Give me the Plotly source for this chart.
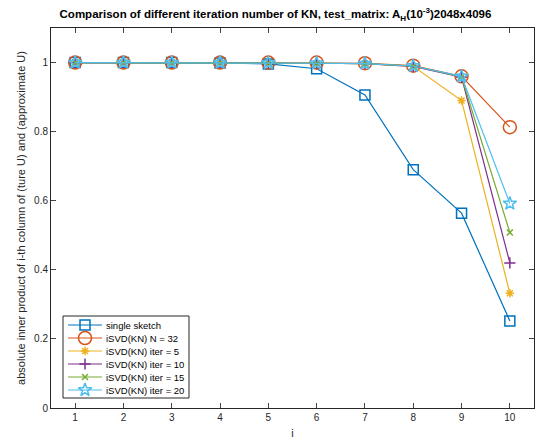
import plotly.graph_objects as go

i_vals = [1, 2, 3, 4, 5, 6, 7, 8, 9, 10]

single_sketch = [1.0, 1.0, 1.0, 0.999, 0.996, 0.982, 0.906, 0.690, 0.564, 0.252]
isvd_n32 = [1.0, 1.0, 1.0, 1.0, 1.0, 1.0, 0.998, 0.991, 0.960, 0.813]
iter5 = [1.0, 1.0, 1.0, 1.0, 0.999, 0.998, 0.997, 0.989, 0.890, 0.332]
iter10 = [1.0, 1.0, 1.0, 1.0, 0.999, 0.998, 0.997, 0.989, 0.958, 0.420]
iter15 = [1.0, 1.0, 1.0, 1.0, 0.999, 0.998, 0.997, 0.990, 0.959, 0.508]
iter20 = [1.0, 1.0, 1.0, 1.0, 0.999, 0.998, 0.997, 0.990, 0.960, 0.592]

names = ["single sketch", "iSVD(KN) N = 32", "iSVD(KN) iter = 5",
         "iSVD(KN) iter = 10", "iSVD(KN) iter = 15", "iSVD(KN) iter = 20"]
series = [single_sketch, isvd_n32, iter5, iter10, iter15, iter20]
colors = ["#0072BD", "#D95319", "#EDB120", "#7E2F8E", "#77AC30", "#4DBEEE"]
symbols = ["square-open", "circle-open", "asterisk-open", "cross-thin-open",
           "x-thin-open", "star-open"]
sizes = [10, 13, 7, 8, 6, 10]

# plot area in pixels
W, H = 538, 441
L, R, T, B = 51, 4, 28, 33
X0, X1 = L, W - R
Y0, Y1 = T, H - B

fig = go.Figure()
for name, ys, c, s, sz in zip(names, series, colors, symbols, sizes):
    fig.add_trace(go.Scatter(
        x=i_vals, y=ys, name=name, mode="lines+markers",
        line=dict(color=c, width=1.2),
        marker=dict(symbol=s, size=sz, color=c, line=dict(color=c, width=1.5)),
        showlegend=False,
    ))

# compact boxed legend drawn on an overlay axis measured in pixels
leg_left, leg_right, leg_top, leg_bottom = 63, 189, 316, 398
row_y0, row_step = 325, 13
line_x0, line_x1, mark_x, text_x = 68, 102, 85, 104

shapes = [dict(type="rect", xref="x2", yref="y2", x0=leg_left, x1=leg_right,
               y0=leg_top, y1=leg_bottom, line=dict(color="#262626", width=1),
               fillcolor="white", layer="below")]
annotations = []
for k, (name, c, s, sz) in enumerate(zip(names, colors, symbols, sizes)):
    yy = row_y0 + k * row_step
    fig.add_trace(go.Scatter(
        x=[line_x0, line_x1], y=[yy, yy], xaxis="x2", yaxis="y2",
        mode="lines", line=dict(color=c, width=1.2),
        showlegend=False, hoverinfo="skip",
    ))
    fig.add_trace(go.Scatter(
        x=[mark_x], y=[yy], xaxis="x2", yaxis="y2", mode="markers",
        marker=dict(symbol=s, size=sz, color=c, line=dict(color=c, width=1.5)),
        showlegend=False, hoverinfo="skip",
    ))
    annotations.append(dict(
        x=text_x, y=yy, xref="x2", yref="y2", text=name, showarrow=False,
        xanchor="left", yanchor="middle", font=dict(size=9.5, color="black"),
    ))

font = "Liberation Sans, Arial, Helvetica, sans-serif"
fig.update_layout(
    width=W, height=H,
    margin=dict(l=L, r=R, t=T, b=B),
    paper_bgcolor="white", plot_bgcolor="white",
    font=dict(family=font, size=10, color="#262626"),
    showlegend=False,
    title=dict(
        text="<b>Comparison of different iteration number of KN, test_matrix: "
             "A<sub>H</sub>(10<sup>-3</sup>)2048x4096</b>",
        x=0.512, xanchor="center", y=0.968, yanchor="middle",
        font=dict(size=11.5, color="black"),
    ),
    xaxis=dict(
        range=[0.5, 10.5], tickvals=i_vals, ticks="inside", ticklen=5,
        showline=True, linecolor="#262626", linewidth=1, mirror="ticks",
        showgrid=False, zeroline=False,
        title=dict(text="i", standoff=7, font=dict(size=11)),
    ),
    yaxis=dict(
        range=[0, 1.1], tickvals=[0, 0.2, 0.4, 0.6, 0.8, 1],
        ticktext=["0", "0.2", "0.4", "0.6", "0.8", "1"],
        ticks="inside", ticklen=5,
        showline=True, linecolor="#262626", linewidth=1, mirror="ticks",
        showgrid=False, zeroline=False,
        title=dict(text="absolute inner product of i-th column of (ture U) and (approximate U)",
                   standoff=6, font=dict(size=11)),
    ),
    xaxis2=dict(range=[X0, X1], overlaying="x", visible=False, fixedrange=True),
    yaxis2=dict(range=[Y1, Y0], overlaying="y", visible=False, fixedrange=True),
    shapes=shapes,
    annotations=annotations,
)

fig.write_html("out.html")
